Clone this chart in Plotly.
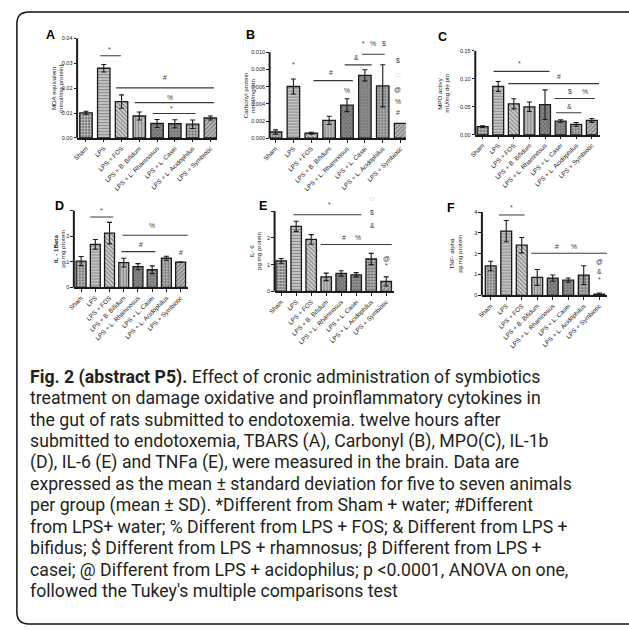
import plotly.graph_objects as go

W, H = 629, 630

groups = ["Sham", "LPS", "LPS + FOS", "LPS + B. Bifidum", "LPS + L. Rhamnosus",
          "LPS + L. Casei", "LPS + L. Acidophilus", "LPS + Symbiotic"]

# A - TBARS (MDA equivalent, nmol/mg protein)
tbars_mean = [0.0101, 0.0280, 0.0146, 0.0088, 0.0058, 0.0057, 0.0055, 0.0080]
tbars_sd = [0.0006, 0.0015, 0.0027, 0.0016, 0.0016, 0.0016, 0.0017, 0.0008]
# B - Carbonyl protein (nmol/mg ptn)
carbonyl_mean = [0.00072, 0.00602, 0.00058, 0.00208, 0.00385, 0.00732, 0.00610, 0.00172]
carbonyl_sd = [0.00025, 0.00088, 0.00012, 0.00048, 0.00075, 0.00065, 0.00245, 0.0]
# C - MPO activity (mU/mg ptn)
mpo_mean = [0.0150, 0.0865, 0.0555, 0.0502, 0.0540, 0.0248, 0.0189, 0.0258]
mpo_sd = [0.0015, 0.0090, 0.0090, 0.0085, 0.0265, 0.0022, 0.0033, 0.0035]
# D - IL-1beta (pg/mg protein)
il1b_mean = [1.03, 1.68, 2.12, 0.97, 0.81, 0.69, 1.14, 0.99]
il1b_sd = [0.18, 0.19, 0.42, 0.17, 0.12, 0.15, 0.08, 0.0]
# E - IL-6 (pg/mg protein)
il6_mean = [1.14, 2.43, 1.94, 0.54, 0.67, 0.62, 1.21, 0.37]
il6_sd = [0.09, 0.19, 0.18, 0.14, 0.10, 0.08, 0.21, 0.17]
# F - TNF-alpha (pg/mg protein)
tnf_mean = [1.41, 3.08, 2.41, 0.86, 0.83, 0.73, 0.97, 0.06]
tnf_sd = [0.23, 0.51, 0.37, 0.38, 0.15, 0.10, 0.45, 0.05]

# y tick values / labels
tbars_ticks = [0, 0.01, 0.02, 0.03, 0.04]
tbars_ticktext = ["0.00", "0.01", "0.02", "0.03", "0.04"]
carbonyl_ticks = [0, 0.002, 0.004, 0.006, 0.008, 0.010]
carbonyl_ticktext = ["0.000", "0.002", "0.004", "0.006", "0.008", "0.010"]
mpo_ticks = [0, 0.05, 0.10, 0.15]
mpo_ticktext = ["0.00", "0.05", "0.10", "0.15"]
il1b_ticks = [0, 1, 2, 3]
il1b_ticktext = ["0", "1", "2", ""]
il6_ticks = [0, 1, 2, 3]
il6_ticktext = ["0", "1", "2", ""]
tnf_ticks = [0, 1, 2, 3, 4]
tnf_ticktext = ["0", "1", "2", "3", "4"]

# significance bars (x from, x to, y) and their symbols (text, x, y)
tbars_lines = [(0.8, 1.96, 0.033), (1.69, 7.2, 0.0201), (2.74, 7.2, 0.0142), (3.76, 6.17, 0.0098)]
tbars_marks = [("*", 1.35, 0.0356), ("#", 4.46, 0.0241), ("%", 4.72, 0.0164), ("*", 4.81, 0.0119)]
carbonyl_lines = [(2.12, 4.33, 0.0067), (3.87, 5.38, 0.00854), (4.83, 6.11, 0.00977)]
carbonyl_marks = [("*", 1.0, 0.00854), ("#", 3.08, 0.0077), ("%", 4.0, 0.0055), ("&", 4.51, 0.0094),
                  ("*", 4.92, 0.0110), ("%", 5.47, 0.0110), ("$", 6.06, 0.0110),
                  ("$", 6.85, 0.0091), ("□", 6.85, 0.0074), ("@", 6.85, 0.00565),
                  ("%", 6.85, 0.0043), ("#", 6.85, 0.0030)]
mpo_lines = [(0.7, 4.29, 0.1134), (1.65, 7.46, 0.0915), (4.6, 7.2, 0.065), (4.71, 6.34, 0.0396)]
mpo_marks = [("*", 2.39, 0.128), ("#", 4.88, 0.1045), ("$", 5.6, 0.078), ("%", 6.55, 0.078),
             ("&", 5.56, 0.0514)]
il1b_lines = [(0.65, 2.26, 2.75), (2.91, 7.5, 2.04), (2.84, 5.22, 1.4)]
il1b_marks = [("*", 1.45, 3.01), ("%", 4.99, 2.43), ("#", 4.23, 1.69), ("#", 7.04, 1.37)]
il6_lines = [(0.81, 5.36, 2.86), (2.63, 7.37, 1.75)]
il6_marks = [("*", 3.24, 3.25), ("□", 6.08, 3.47), ("$", 6.08, 2.94), ("&", 6.08, 2.47),
             ("#", 4.16, 2.01), ("%", 5.1, 2.01), ("@", 7.05, 1.23), ("*", 7.05, 0.96)]
tnf_lines = [(0.53, 2.19, 3.86), (2.61, 7.5, 2.02)]
tnf_marks = [("*", 1.34, 4.24), ("#", 4.25, 2.33), ("%", 5.37, 2.33),
             ("@", 7.0, 1.62), ("&", 7.0, 1.14), ("*", 7.0, 0.75)]

# fill patterns, one per group
pat_shape = ["+", "-", "\\", "|", "x", ".", "+", "/"]
pat_bg = ["#7a7a7a", "#d4d4d4", "#d8d8d8", "#cacaca", "#8e8e8e", "#9a9a9a", "#b4b4b4", "#c0c0c0"]
pat_fg = ["#2e2e2e", "#6e6e6e", "#1e1e1e", "#6a6a6a", "#3a3a3a", "#4a4a4a", "#2e2e2e", "#3c3c3c"]

# panel frames in pixels: plot left/right, zero baseline, px per unit, category offset, spacing
panels = [
    dict(letter="A", mean=tbars_mean, sd=tbars_sd, ticks=tbars_ticks, ticktext=tbars_ticktext,
         lines=tbars_lines, marks=tbars_marks, title=("MDA equivalent", "(nmol/mg protein)"),
         left=70, right=212, base=137, scale=2508, xmin=-0.5, step=18.0, ymax=0.0405,
         letter_xy=(43, 33), title_x=(45.5, 52.5)),
    dict(letter="B", mean=carbonyl_mean, sd=carbonyl_sd, ticks=carbonyl_ticks, ticktext=carbonyl_ticktext,
         lines=carbonyl_lines, marks=carbonyl_marks, title=("Carbonyl protein", "nmol/mg ptn"),
         left=265, right=403, base=137.3, scale=8660, xmin=-0.33, step=18.1, ymax=0.0116,
         letter_xy=(246, 33), title_x=(240, 247)),
    dict(letter="C", mean=mpo_mean, sd=mpo_sd, ticks=mpo_ticks, ticktext=mpo_ticktext,
         lines=mpo_lines, marks=mpo_marks, title=("MPO activy", "mU/mg de ptn"),
         left=473.3, right=600, base=134, scale=564.7, xmin=-0.47, step=15.8, ymax=0.152,
         letter_xy=(440, 35), title_x=(437.5, 444.5)),
    dict(letter="D", mean=il1b_mean, sd=il1b_sd, ticks=il1b_ticks, ticktext=il1b_ticktext,
         lines=il1b_lines, marks=il1b_marks, title=("<b>IL - 1Beta</b>", "pg.mg protein"),
         left=66.7, right=182.3, base=287.7, scale=25.8, xmin=-0.51, step=14.4, ymax=3.2,
         letter_xy=(52, 206), title_x=(47.5, 54.5)),
    dict(letter="E", mean=il6_mean, sd=il6_sd, ticks=il6_ticks, ticktext=il6_ticktext,
         lines=il6_lines, marks=il6_marks, title=("IL- 6", "pg.mg protein"),
         left=270, right=391, base=291.7, scale=27, xmin=-0.44, step=15.2, ymax=3.6,
         letter_xy=(258, 206), title_x=(246.5, 253)),
    dict(letter="F", mean=tnf_mean, sd=tnf_sd, ticks=tnf_ticks, ticktext=tnf_ticktext,
         lines=tnf_lines, marks=tnf_marks, title=("TNF- alpha", "pg.mg protein"),
         left=480, right=606.7, base=295.7, scale=21, xmin=-0.57, step=15.7, ymax=4.45,
         letter_xy=(449, 208), title_x=(449.5, 457)),
]

AX_FONT = "Liberation Sans, Arial, sans-serif"
CAP_FONT = "Roboto, Open Sans, sans-serif"
INK = "#1a1a1a"

def px_x(px):
    return px / W

def px_y(py):
    return 1 - py / H

fig = go.Figure()
shapes = []
annotations = []

for i, p in enumerate(panels, start=1):
    xa = "x" if i == 1 else f"x{i}"
    ya = "y" if i == 1 else f"y{i}"
    xkey = "xaxis" if i == 1 else f"xaxis{i}"
    ykey = "yaxis" if i == 1 else f"yaxis{i}"

    fig.add_trace(go.Bar(
        x=groups, y=p["mean"], xaxis=xa, yaxis=ya, width=0.7,
        marker=dict(
            color=pat_bg,
            line=dict(color=INK, width=1.3),
            pattern=dict(shape=pat_shape, bgcolor=pat_bg, fgcolor=pat_fg,
                         size=3.0, solidity=0.5),
        ),
        error_y=dict(type="data", array=p["sd"], visible=True,
                     color=INK, thickness=1.1, width=2.5),
        showlegend=False, hoverinfo="skip",
    ))

    top_px = p["base"] - p["ymax"] * p["scale"]
    xmax = p["xmin"] + (p["right"] - p["left"]) / p["step"]
    fig.layout[xkey] = dict(
        domain=[px_x(p["left"]), px_x(p["right"])], anchor=ya,
        range=[p["xmin"], xmax], type="category",
        showline=True, linecolor=INK, linewidth=2,
        ticks="outside", ticklen=2.5, tickwidth=1, tickcolor=INK,
        tickangle=-45, tickfont=dict(family=AX_FONT, size=6.3, color=INK),
        showgrid=False, zeroline=False, fixedrange=True,
    )
    fig.layout[ykey] = dict(
        domain=[px_y(p["base"]), px_y(top_px)], anchor=xa,
        range=[0, p["ymax"]], tickvals=p["ticks"], ticktext=p["ticktext"],
        showline=False, ticks="outside", ticklen=2.5, tickwidth=1, tickcolor=INK,
        tickfont=dict(family=AX_FONT, size=5.5, color=INK),
        showgrid=False, zeroline=False, fixedrange=True,
    )

    # vertical axis line stops at the highest tick
    axis_top = max(p["ticks"])
    shapes.append(dict(type="line", xref=f"{xa} domain", yref=f"{ya} domain",
                       x0=0, x1=0, y0=0, y1=axis_top / p["ymax"],
                       line=dict(color=INK, width=2)))

    for (x0, x1, yv) in p["lines"]:
        shapes.append(dict(type="line", xref=xa, yref=ya, x0=x0, x1=x1, y0=yv, y1=yv,
                           line=dict(color="#3a3a3a", width=1.1)))
    for (txt, xv, yv) in p["marks"]:
        color = "#c8c8c8" if txt == "□" else "#3a3a3a"
        annotations.append(dict(text=txt, xref=xa, yref=ya, x=xv, y=yv, showarrow=False,
                                font=dict(family=AX_FONT, size=6.8, color=color),
                                xanchor="center", yanchor="middle"))

    # panel letter
    lx, ly = p["letter_xy"]
    annotations.append(dict(text=f"<b>{p['letter']}</b>", xref="paper", yref="paper",
                            x=px_x(lx), y=px_y(ly), showarrow=False,
                            font=dict(family=AX_FONT, size=12.5, color="#000"),
                            xanchor="center", yanchor="middle"))
    # y-axis title, two rotated lines
    mid_px = p["base"] - axis_top * p["scale"] / 2
    for line_txt, tx in zip(p["title"], p["title_x"]):
        annotations.append(dict(text=line_txt, xref="paper", yref="paper",
                                x=px_x(tx), y=px_y(mid_px), showarrow=False,
                                textangle=-90, font=dict(family=AX_FONT, size=6.2, color=INK),
                                xanchor="center", yanchor="middle"))

# figure caption
caption = [
    "<b>Fig. 2 (abstract P5).</b> Effect of cronic administration of symbiotics",
    "treatment on damage oxidative and proinflammatory cytokines in",
    "the gut of rats submitted to endotoxemia. twelve hours after",
    "submitted to endotoxemia, TBARS (A), Carbonyl (B), MPO(C), IL-1b",
    "(D), IL-6 (E) and TNFa (E), were measured in the brain. Data are",
    "expressed as the mean ± standard deviation for five to seven animals",
    "per group (mean ± SD). *Different from Sham + water; #Different",
    "from LPS+ water; % Different from LPS + FOS; & Different from LPS +",
    "bifidus; $ Different from LPS + rhamnosus; β Different from LPS +",
    "casei; @ Different from LPS + acidophilus; p <0.0001, ANOVA on one,",
    "followed the Tukey's multiple comparisons test",
]
CAP_TOP, CAP_STEP, CAP_LEFT = 378, 21.6, 20
for k, line in enumerate(caption):
    annotations.append(dict(text=line, xref="paper", yref="paper",
                            x=px_x(CAP_LEFT), y=px_y(CAP_TOP + k * CAP_STEP),
                            showarrow=False, xanchor="left", yanchor="middle",
                            font=dict(family=CAP_FONT, size=17.7, color="#231f20")))

# rounded frame around figure and caption
fx0, fy0, fy1, fr = 9, 10, 627, 12
fx1 = W + 20
frame = (f"M {px_x(fx0)},{px_y(fy0 + fr)} Q {px_x(fx0)},{px_y(fy0)} {px_x(fx0 + fr)},{px_y(fy0)} "
         f"L {px_x(fx1)},{px_y(fy0)} "
         f"M {px_x(fx0)},{px_y(fy0 + fr)} L {px_x(fx0)},{px_y(fy1 - fr)} "
         f"Q {px_x(fx0)},{px_y(fy1)} {px_x(fx0 + fr)},{px_y(fy1)} L {px_x(fx1)},{px_y(fy1)}")
shapes.append(dict(type="path", xref="paper", yref="paper", path=frame,
                   line=dict(color="#111", width=1.5)))

fig.update_layout(
    width=W, height=H, autosize=False,
    margin=dict(l=0, r=0, t=0, b=0),
    paper_bgcolor="white", plot_bgcolor="rgba(0,0,0,0)",
    shapes=shapes, annotations=annotations,
    bargap=0.3, showlegend=False,
)

fig.write_html("out.html", config={"displayModeBar": False, "staticPlot": True},
               post_script="document.body.style.margin='0';")
